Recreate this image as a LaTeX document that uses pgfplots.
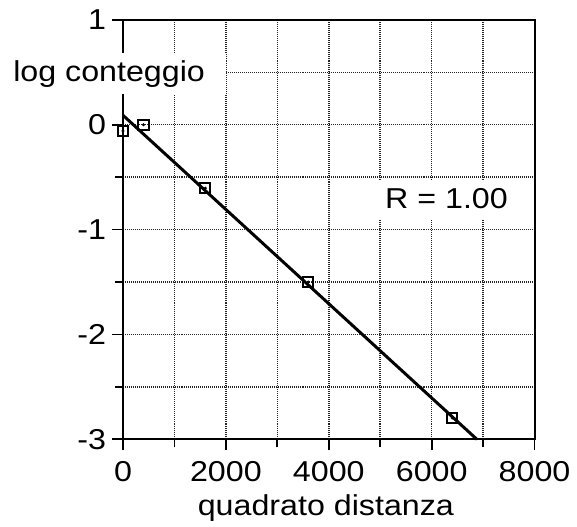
\documentclass[border=0pt]{standalone}
\usepackage{fontspec}
\setmainfont{Liberation Sans}[FakeStretch=1.12]
\usepackage{pgfplots}
\pgfplotsset{compat=1.18}
\usepackage{pgfplotstable}

\newcommand\chartfont{\fontsize{14.5}{17}\selectfont}

% log of count against squared distance
\pgfplotstableread{
x     y
0     -0.06
400    0.00
1600  -0.605
3600  -1.50
6400  -2.795
}\punti

\begin{document}
\begin{tikzpicture}
\begin{axis}[
    scale only axis,
    width=207.5pt, height=211.5pt,
    xmin=0, xmax=8000, ymin=-3, ymax=1,
    xtick={0,2000,4000,6000,8000},
    xticklabels={0,2000,4000,6000,8000},
    minor xtick={1000,3000,5000,7000},
    ytick={-3,-2,-1,0,1},
    yticklabels={-3,-2,-1,0,1},
    minor ytick={-2.5,-1.5,-0.5,0.5},
    scaled x ticks=false,
    tick pos=left,
    tick align=outside,
    major tick length=5.5pt,
    minor tick length=4pt,
    every tick/.style={black, line width=0.9pt},
    axis line style={line width=1pt},
    grid=both,
    major grid style={black!85, line width=0.75pt, dash pattern=on 0.5pt off 0.5pt},
    minor grid style={black!85, line width=0.75pt, dash pattern=on 0.5pt off 0.5pt},
    tick label style={font=\chartfont},
    yticklabel style={xshift=0.5pt},
    xticklabel style={yshift=-2pt},
    clip=false,
]
\addplot[black, line width=1.5pt] coordinates {(0,0.09) (6880,-3)};
\addplot[only marks, mark=square, mark size=2.6pt, mark options={line width=1pt, fill=white}] table[x=x, y=y] {\punti};
\addplot[only marks, mark=*, mark size=0.55pt] table[x=x, y=y] {\punti};

\coordinate (bbA) at (rel axis cs:-0.2988,-0.208);
\coordinate (bbB) at (rel axis cs:1.0916,1.0473);
\coordinate (ylA) at (rel axis cs:-0.2988,0.8227);
\coordinate (ylB) at (rel axis cs:0.2506,0.922);
\coordinate (ylT) at (rel axis cs:-0.2675,0.8534);
\coordinate (rA) at (rel axis cs:0.605,0.525);
\coordinate (rB) at (rel axis cs:0.978,0.617);
\coordinate (rT) at (rel axis cs:0.786,0.551);
\coordinate (xlT) at (rel axis cs:0.493,-0.182);
\end{axis}
\path (bbA) rectangle (bbB);
\fill[white] (ylA) rectangle (ylB);
\node[anchor=base west, inner sep=0pt, font=\chartfont] at (ylT) {log conteggio};
\fill[white] (rA) rectangle (rB);
\node[anchor=base, inner sep=0pt, font=\chartfont] at (rT) {R = 1.00};
\node[anchor=base, inner sep=0pt, font=\chartfont] at (xlT) {quadrato distanza};
\end{tikzpicture}
\end{document}
